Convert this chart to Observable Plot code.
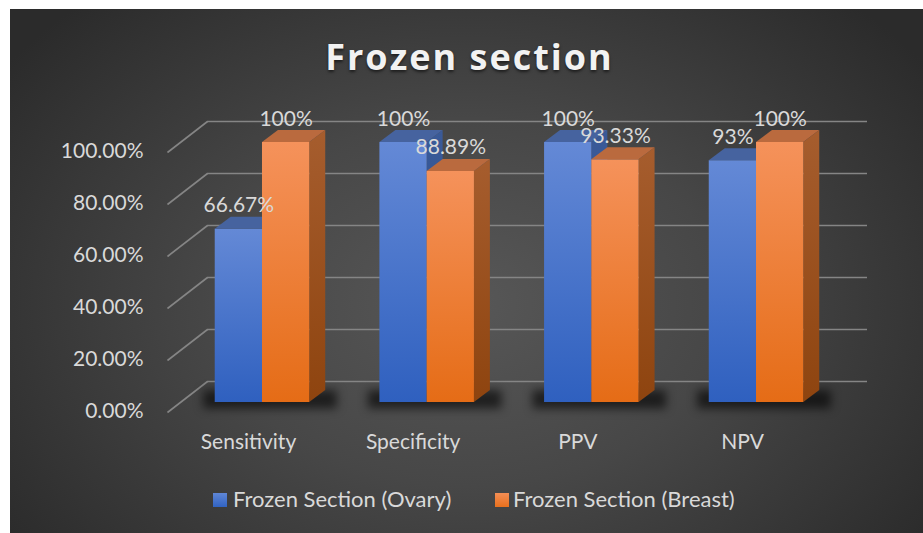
<!DOCTYPE html>
<html>
<head>
<meta charset="utf-8">
<script src="https://cdn.jsdelivr.net/npm/d3@7"></script>
<script src="https://cdn.jsdelivr.net/npm/@observablehq/plot@0.6"></script>
<style>
  body { margin: 0; background: #ffffff; }
  #page { position: relative; width: 923px; height: 533px; overflow: hidden; }
  #panel { position: absolute; left: 10px; top: 9px; width: 913px; height: 524px;
    background: radial-gradient(ellipse 62% 78% at 50% 56%, #575757 0%, #474747 45%, #2b2b2b 100%); }
  #chart { position: absolute; left: 0; top: 0; }
  #title { position: absolute; left: 10px; width: 913px; padding-left: 6px; box-sizing: border-box; top: 39px;
    text-align: center; font: 700 36px/36px "Open Sans", sans-serif; letter-spacing: 2px; color: #f2f2f2;
    text-shadow: 0 2px 3px rgba(0,0,0,0.55); }
  #legend { position: absolute; left: 213px; top: 489px; display: flex; font: 22px/19px Lato, sans-serif; color: #d9d9d9; white-space: nowrap; }
  #legend .item { display: flex; align-items: flex-start; }
  #legend .sw { width: 14px; height: 14px; margin-top: 4px; margin-right: 6px; }
  g[aria-description="shadow"] { filter: blur(5px); }
</style>
</head>
<body>
<div id="page">
  <div id="panel"></div>
  <div id="title">Frozen section</div>
  <div id="chart"></div>
  <div id="legend"></div>
</div>
<script>
const categories = ["Sensitivity", "Specificity", "PPV", "NPV"];
const seriesNames = ["Frozen Section (Ovary)", "Frozen Section (Breast)"];
const ovary = [0.6667, 1.0, 1.0, 0.93];
const breast = [1.0, 0.8889, 0.9333, 1.0];
const ovaryLabels = ["66.67%", "100%", "100%", "93%"];
const breastLabels = ["100%", "88.89%", "93.33%", "100%"];
const yTicks = [0, 0.2, 0.4, 0.6, 0.8, 1.0];

// 3D geometry (in category / value units)
const W = 0.287, D = 0.097, E = 12 / 260;
const BACK = 21 / 260, FRONT = 10 / 260;
const frontLeft = -0.577, backLeft = -0.334, backRight = 3.674;

const series = [ovary, breast];
const labels = [ovaryLabels, breastLabels];
const frontGrad = [["#6489d6", "#2f60bf"], ["#f5925b", "#e56c16"]];
const sideGrad = [["#3a5a98", "#2a4c8c"], ["#a65d2e", "#8e440f"]];
const topColors = ["#46639f", "#ba6a3e"];

const bars = [];
series.forEach((vals, j) => vals.forEach((v, i) => {
  const xl = j === 0 ? i - W : i;
  bars.push({j, i, v, xl, xr: xl + W, label: labels[j][i], id: j + "-" + i});
}));

function defs() {
  const ns = "http://www.w3.org/2000/svg";
  const d = document.createElementNS(ns, "defs");
  let html = "";
  [0, 1].forEach(j => {
    html += `<linearGradient id="front${j}" x1="0" y1="0" x2="0" y2="1"><stop offset="0" stop-color="${frontGrad[j][0]}"/><stop offset="1" stop-color="${frontGrad[j][1]}"/></linearGradient>`;
    html += `<linearGradient id="side${j}" x1="0" y1="0" x2="0" y2="1"><stop offset="0" stop-color="${sideGrad[j][0]}"/><stop offset="1" stop-color="${sideGrad[j][1]}"/></linearGradient>`;
  });
  d.innerHTML = html;
  return d;
}

function faces(j) {
  const b = bars.filter(d => d.j === j);
  const side = b.flatMap(d => [
    {id: d.id, x: d.xr, y1: 0, y2: d.v},
    {id: d.id, x: d.xr + D, y1: E, y2: d.v + E}
  ]);
  const top = b.flatMap(d => [
    {id: d.id, y: d.v, x1: d.xl, x2: d.xr},
    {id: d.id, y: d.v + E, x1: d.xl + D, x2: d.xr + D}
  ]);
  return [
    Plot.areaY(side, {x: "x", y1: "y1", y2: "y2", z: "id", fill: `url(#side${j})`}),
    Plot.rect(b, {x1: "xl", x2: "xr", y1: () => 0, y2: "v", fill: `url(#front${j})`}),
    Plot.areaX(top, {y: "y", x1: "x1", x2: "x2", z: "id", fill: topColors[j]})
  ];
}

const idx = categories.map((c, i) => i);
const txt = "#d9d9d9";

const chart = Plot.plot({
  width: 923,
  height: 533,
  marginLeft: 179.65,
  marginRight: 84.65,
  marginTop: 142,
  marginBottom: 131,
  x: {domain: [-0.5, 3.5], axis: null},
  y: {domain: [0, 1], axis: null},
  style: {background: "transparent", fontFamily: "Lato, sans-serif", overflow: "visible"},
  marks: [
    defs,
    Plot.ruleY(yTicks, {y: t => t + BACK, x1: () => backLeft, x2: () => backRight, stroke: "#858585", strokeWidth: 1.6}),
    Plot.link(yTicks, {x1: () => frontLeft, x2: () => backLeft, y1: t => t - FRONT, y2: t => t + BACK, stroke: "#858585", strokeWidth: 1.6}),
    Plot.rect(idx, {x1: i => i - W - 0.07, x2: i => i + W + D + 0.07, y1: () => -0.025, y2: () => E, fill: "#000", fillOpacity: 0.6, ariaDescription: "shadow"}),
    ...faces(0),
    ...faces(1),
    Plot.text(yTicks, {y: t => t, text: d3.format(".2%"), frameAnchor: "left", dx: -36.65, dy: 15.5, textAnchor: "end", lineAnchor: "bottom", fill: txt, fontSize: 21}),
    Plot.text(bars, {x: d => d.xl + W / 2, y: "v", text: "label", dy: -17, lineAnchor: "bottom", fill: txt, fontSize: 21}),
    Plot.text(categories, {x: (d, i) => i, y: () => 0, text: d => d, dx: -14, dy: 46, lineAnchor: "bottom", fill: txt, fontSize: 21})
  ]
});
document.getElementById("chart").appendChild(chart);

const legend = document.getElementById("legend");
const swatch = ["linear-gradient(#5f86d6, #3163c2)", "linear-gradient(#f48e55, #e8701d)"];
seriesNames.forEach((name, j) => {
  const item = document.createElement("div");
  item.className = "item";
  if (j === 0) item.style.width = "282px";
  const sw = document.createElement("span");
  sw.className = "sw";
  sw.style.background = swatch[j];
  if (j === 1) sw.style.marginRight = "4px";
  item.appendChild(sw);
  item.appendChild(document.createTextNode(name));
  legend.appendChild(item);
});
</script>
</body>
</html>
